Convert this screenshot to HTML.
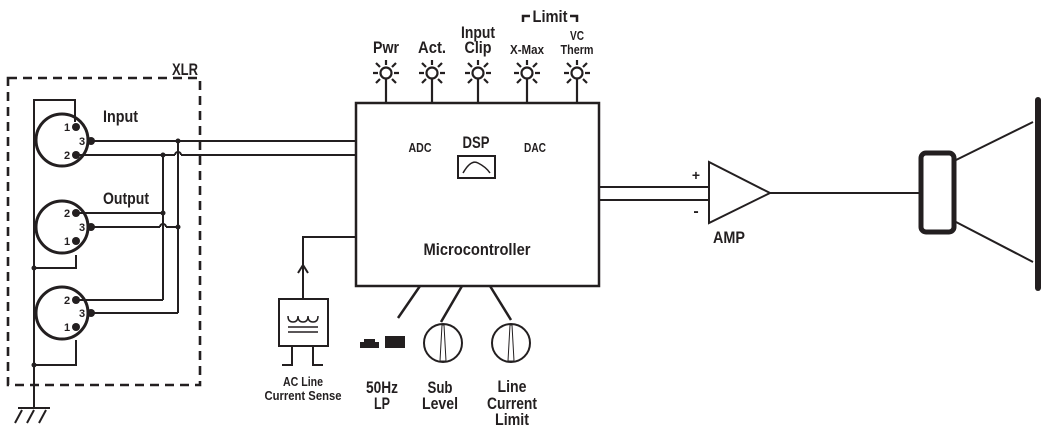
<!DOCTYPE html>
<html><head><style>
html,body{margin:0;padding:0;background:#fff;}
svg{display:block;}
text{font-family:"Liberation Sans",sans-serif;font-weight:bold;fill:#231f20;}
</style></head><body>
<svg width="1051" height="431" viewBox="0 0 1051 431" xmlns="http://www.w3.org/2000/svg">
<g stroke="#231f20" fill="none" stroke-width="2">
<rect x="8" y="78" width="192" height="307" stroke-dasharray="9,6" stroke-width="2.6"/>
<polyline points="75,122 75,100 34,100 34,408"/>
<polyline points="76,255 76,268 34,268"/>
<polyline points="76,340 76,365 34,365"/>
<line x1="18" y1="408" x2="50" y2="408"/>
<line x1="22" y1="410" x2="15" y2="423"/>
<line x1="34" y1="410" x2="27" y2="423"/>
<line x1="46" y1="410" x2="39" y2="423"/>
<circle cx="62" cy="140" r="26" stroke-width="3"/>
<circle cx="62" cy="227" r="26" stroke-width="3"/>
<circle cx="62" cy="313" r="26" stroke-width="3"/>
<line x1="91" y1="141" x2="357" y2="141"/>
<line x1="76" y1="155" x2="175" y2="155"/>
<path d="M175,155 a3,3 0 0 1 6,0"/>
<line x1="181" y1="155" x2="357" y2="155"/>
<line x1="163" y1="155" x2="163" y2="300"/>
<line x1="178" y1="141" x2="178" y2="313"/>
<line x1="76" y1="213" x2="163" y2="213"/>
<line x1="91" y1="227" x2="160" y2="227"/>
<path d="M160,227 a3,3 0 0 1 6,0"/>
<line x1="166" y1="227" x2="178" y2="227"/>
<line x1="76" y1="300" x2="163" y2="300"/>
<line x1="91" y1="313" x2="178" y2="313"/>
<rect x="279" y="299" width="49" height="47"/>
<path d="M288,316 q0,6 5,6 q5,0 5,-6 q0,6 5,6 q5,0 5,-6 q0,6 5,6 q5,0 5,-6" stroke-width="1.5"/>
<line x1="288" y1="327" x2="318" y2="327" stroke-width="1.5"/>
<line x1="288" y1="332" x2="318" y2="332" stroke-width="1.5"/>
<polyline points="292,346 292,365 282,365"/>
<polyline points="313,346 313,365 323,365"/>
<polyline points="303,299 303,237 357,237"/>
<polyline points="298,273 303,265 308,273"/>
<rect x="356" y="103" width="243" height="183" stroke-width="2.5"/>
<rect x="458" y="156" width="37" height="22" stroke-width="2"/>
<path d="M463,173 q8,-14 15,-10 q8,4 12,10" stroke-width="1.5"/>
<line x1="599" y1="187" x2="709" y2="187"/>
<line x1="599" y1="200" x2="709" y2="200"/>
<line x1="420" y1="286" x2="398" y2="318" stroke-width="2.5"/>
<line x1="462" y1="286" x2="441" y2="322" stroke-width="2.5"/>
<line x1="490" y1="286" x2="511" y2="320" stroke-width="2.5"/>
<circle cx="443" cy="343" r="19"/>
<circle cx="511" cy="343" r="19"/>
<path d="M442,325 L440,361 L446,361 L444,325 Z" stroke-width="1"/>
<path d="M510,325 L508,361 L514,361 L512,325 Z" stroke-width="1"/>
<polygon points="709,162 709,223 770,193"/>
<line x1="770" y1="193" x2="920" y2="193"/>
<rect x="921" y="153" width="33" height="79" rx="5" stroke-width="5"/>
<line x1="956" y1="160" x2="1033" y2="122"/>
<line x1="956" y1="222" x2="1033" y2="262"/>
<line x1="1038" y1="100" x2="1038" y2="288" stroke-width="6" stroke-linecap="round"/>
<polyline points="523,22 523,16 530,16" stroke-width="2.5"/>
<polyline points="570,16 577,16 577,22" stroke-width="2.5"/>
</g>
<g fill="#231f20">
<rect x="360" y="342" width="19" height="6"/><rect x="364" y="339" width="11" height="4"/>
<rect x="385" y="336" width="20" height="12"/>
<circle cx="76" cy="127" r="4"/><circle cx="91" cy="141" r="4"/><circle cx="76" cy="155" r="4"/>
<circle cx="76" cy="213" r="4"/><circle cx="91" cy="227" r="4"/><circle cx="76" cy="241" r="4"/>
<circle cx="76" cy="300" r="4"/><circle cx="91" cy="313" r="4"/><circle cx="76" cy="327" r="4"/>
<circle cx="178" cy="141" r="2.5"/><circle cx="163" cy="155" r="2.5"/>
<circle cx="163" cy="213" r="2.5"/><circle cx="178" cy="227" r="2.5"/>
<circle cx="34" cy="268" r="2.5"/><circle cx="34" cy="365" r="2.5"/>
</g>
<g stroke="#231f20" fill="#fff" stroke-width="2.2">
<g transform="translate(386,73)"><line x1="0" y1="6" x2="0" y2="30"/><circle r="5.5"/><path d="M-13,0h5M8,0h5M0,-8v-5M-6,-6l-4,-4M6,-6l4,-4M-6,6l-4,4M6,6l4,4"/></g>
<g transform="translate(432,73)"><line x1="0" y1="6" x2="0" y2="30"/><circle r="5.5"/><path d="M-13,0h5M8,0h5M0,-8v-5M-6,-6l-4,-4M6,-6l4,-4M-6,6l-4,4M6,6l4,4"/></g>
<g transform="translate(478,73)"><line x1="0" y1="6" x2="0" y2="30"/><circle r="5.5"/><path d="M-13,0h5M8,0h5M0,-8v-5M-6,-6l-4,-4M6,-6l4,-4M-6,6l-4,4M6,6l4,4"/></g>
<g transform="translate(527,73)"><line x1="0" y1="6" x2="0" y2="30"/><circle r="5.5"/><path d="M-13,0h5M8,0h5M0,-8v-5M-6,-6l-4,-4M6,-6l4,-4M-6,6l-4,4M6,6l4,4"/></g>
<g transform="translate(577,73)"><line x1="0" y1="6" x2="0" y2="30"/><circle r="5.5"/><path d="M-13,0h5M8,0h5M0,-8v-5M-6,-6l-4,-4M6,-6l4,-4M-6,6l-4,4M6,6l4,4"/></g>
</g>
<text x="172" y="75" font-size="17" textLength="26" lengthAdjust="spacingAndGlyphs">XLR</text>
<text x="103" y="122" font-size="17" textLength="35" lengthAdjust="spacingAndGlyphs">Input</text>
<text x="103" y="204" font-size="17" textLength="46" lengthAdjust="spacingAndGlyphs">Output</text>
<g text-anchor="middle">
<text x="67" y="131" font-size="11">1</text><text x="82" y="145" font-size="11">3</text><text x="67" y="159" font-size="11">2</text>
<text x="67" y="217" font-size="11">2</text><text x="82" y="231" font-size="11">3</text><text x="67" y="245" font-size="11">1</text>
<text x="67" y="304" font-size="11">2</text><text x="82" y="317" font-size="11">3</text><text x="67" y="331" font-size="11">1</text>
<text x="303" y="386" font-size="13" font-weight="normal" textLength="40" lengthAdjust="spacingAndGlyphs">AC Line</text>
<text x="303" y="400" font-size="13" font-weight="normal" textLength="77" lengthAdjust="spacingAndGlyphs">Current Sense</text>
<text x="386" y="53" font-size="17" textLength="26" lengthAdjust="spacingAndGlyphs">Pwr</text>
<text x="432" y="53" font-size="17" textLength="28" lengthAdjust="spacingAndGlyphs">Act.</text>
<text x="478" y="38" font-size="17" textLength="34" lengthAdjust="spacingAndGlyphs">Input</text>
<text x="478" y="53" font-size="17" textLength="27" lengthAdjust="spacingAndGlyphs">Clip</text>
<text x="550" y="22" font-size="17" textLength="35" lengthAdjust="spacingAndGlyphs">Limit</text>
<text x="527" y="54" font-size="13" textLength="34" lengthAdjust="spacingAndGlyphs">X-Max</text>
<text x="577" y="40" font-size="13" textLength="14" lengthAdjust="spacingAndGlyphs">VC</text>
<text x="577" y="54" font-size="13" textLength="33" lengthAdjust="spacingAndGlyphs">Therm</text>
<text x="420" y="152" font-size="13" textLength="23" lengthAdjust="spacingAndGlyphs">ADC</text>
<text x="476" y="148" font-size="17" textLength="27" lengthAdjust="spacingAndGlyphs">DSP</text>
<text x="535" y="152" font-size="13" textLength="22" lengthAdjust="spacingAndGlyphs">DAC</text>
<text x="477" y="255" font-size="17" textLength="107" lengthAdjust="spacingAndGlyphs">Microcontroller</text>
<text x="382" y="393" font-size="17" textLength="32" lengthAdjust="spacingAndGlyphs">50Hz</text>
<text x="382" y="409" font-size="17" textLength="16" lengthAdjust="spacingAndGlyphs">LP</text>
<text x="440" y="393" font-size="17" textLength="25" lengthAdjust="spacingAndGlyphs">Sub</text>
<text x="440" y="409" font-size="17" textLength="36" lengthAdjust="spacingAndGlyphs">Level</text>
<text x="512" y="392" font-size="17" textLength="29" lengthAdjust="spacingAndGlyphs">Line</text>
<text x="512" y="409" font-size="17" textLength="50" lengthAdjust="spacingAndGlyphs">Current</text>
<text x="512" y="425" font-size="17" textLength="34" lengthAdjust="spacingAndGlyphs">Limit</text>
<text x="696" y="180" font-size="14">+</text>
<text x="696" y="216" font-size="16">-</text>
<text x="729" y="243" font-size="17" textLength="32" lengthAdjust="spacingAndGlyphs">AMP</text>
</g>
</svg>
</body></html>
